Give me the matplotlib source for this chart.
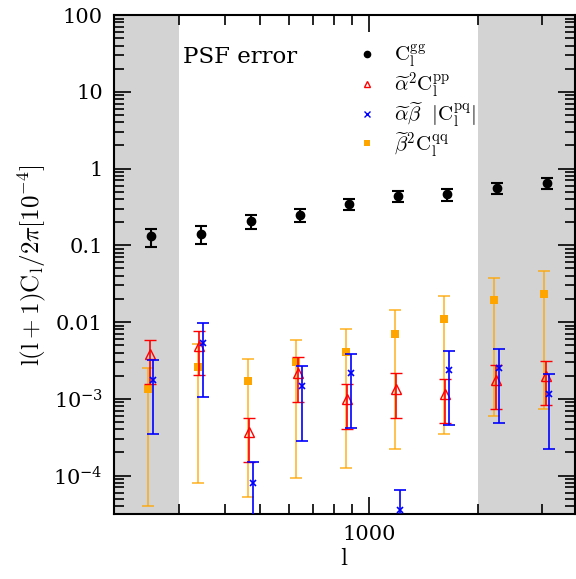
import numpy as np
import matplotlib
matplotlib.use("Agg")
import matplotlib.pyplot as plt
from matplotlib.lines import Line2D
from matplotlib.ticker import FixedLocator, FixedFormatter, NullFormatter, LogLocator

plt.rcParams["mathtext.fontset"] = "cm"
plt.rcParams["font.family"] = "serif"
plt.rcParams["font.serif"] = ["DejaVu Serif"]

# multipole bins
ell = [251, 344, 472, 644, 881, 1203, 1641, 2259, 3105]

# C_l^gg
gg = [0.131, 0.142, 0.207, 0.248, 0.349, 0.438, 0.466, 0.552, 0.655]
gg_hi = [0.163, 0.180, 0.251, 0.300, 0.405, 0.509, 0.541, 0.647, 0.762]
gg_lo = [0.096, 0.104, 0.163, 0.200, 0.288, 0.363, 0.382, 0.461, 0.536]

# alpha^2 C_l^pp
pp = [3.78e-3, 4.9e-3, 3.64e-4, 2.2e-3, 9.9e-4, 1.33e-3, 1.15e-3, 1.78e-3, 1.99e-3]
pp_hi = [5.9e-3, 7.7e-3, 5.7e-4, 3.48e-3, 1.56e-3, 2.14e-3, 1.8e-3, 2.79e-3, 3.09e-3]
pp_lo = [1.55e-3, 2.07e-3, 1.49e-4, 9.0e-4, 4.1e-4, 5.6e-4, 4.8e-4, 7.3e-4, 8.2e-4]

# alpha beta |C_l^pq|
pq = [1.77e-3, 5.4e-3, 8.1e-5, 1.49e-3, 2.16e-3, 3.55e-5, 2.35e-3, 2.52e-3, 1.15e-3]
pq_hi = [3.2e-3, 9.8e-3, 1.48e-4, 2.69e-3, 3.89e-3, 6.4e-5, 4.25e-3, 4.5e-3, 2.09e-3]
pq_lo = [3.46e-4, 1.06e-3, 1e-6, 2.86e-4, 4.18e-4, 1e-6, 4.6e-4, 4.9e-4, 2.2e-4]

# beta^2 C_l^qq
qq = [1.33e-3, 2.58e-3, 1.69e-3, 3.0e-3, 4.08e-3, 7.08e-3, 1.11e-2, 1.96e-2, 2.32e-2]
qq_hi = [2.55e-3, 5.1e-3, 3.28e-3, 5.9e-3, 8.1e-3, 1.43e-2, 2.21e-2, 3.79e-2, 4.58e-2]
qq_lo = [4.0e-5, 7.96e-5, 5.2e-5, 9.2e-5, 1.26e-4, 2.23e-4, 3.49e-4, 5.98e-4, 7.26e-4]

labels = [
    r"$\mathrm{C_l^{gg}}$",
    r"$\widetilde{\alpha}^2\mathrm{C_l^{pp}}$",
    r"$\widetilde{\alpha}\widetilde{\beta}\ \ |\mathrm{C_l^{pq}}|$",
    r"$\widetilde{\beta}^2\mathrm{C_l^{qq}}$",
]


def yerr(y, hi, lo):
    y = np.array(y)
    return [y - np.array(lo), np.array(hi) - y]


fig = plt.figure(figsize=(5.76, 5.79), dpi=100)
ax = fig.add_axes([0.198, 0.112, 0.800, 0.862])

ax.set_xscale("log")
ax.set_yscale("log")
ax.set_xlim(198, 3700)
ax.set_ylim(3.14e-5, 100)

# excluded ranges
ax.axvspan(198, 300, color="lightgray", lw=0, zorder=0)
ax.axvspan(2000, 3700, color="lightgray", lw=0, zorder=0)

x = np.array(ell)
# beta^2 C_qq: bars, then markers
ax.errorbar(x * 0.98, qq, yerr=yerr(qq, qq_hi, qq_lo), fmt="none", ecolor="orange",
            elinewidth=1.2, capsize=4, capthick=1.2, alpha=0.8, zorder=2)
ax.plot(x * 0.98, qq, "s", color="orange", ms=6, mew=0, zorder=2)
ax.errorbar(x * 0.99, pp, yerr=yerr(pp, pp_hi, pp_lo), fmt="^", color="red",
            mfc="none", ms=6.5, mew=1.0, elinewidth=1.2, capsize=4, capthick=1.2, zorder=3)
ax.errorbar(x * 1.012, pq, yerr=yerr(pq, pq_hi, pq_lo), fmt="x", color="blue",
            ms=5, mew=1.2, elinewidth=1.2, capsize=4, capthick=1.2, zorder=4)
ax.errorbar(x, gg, yerr=yerr(gg, gg_hi, gg_lo), fmt="o", color="black",
            ms=6, elinewidth=1.5, capsize=4, capthick=1.5, zorder=5)

handles = [
    Line2D([], [], ls="none", marker="o", color="black", ms=4.5),
    Line2D([], [], ls="none", marker="^", color="red", mfc="none", ms=5),
    Line2D([], [], ls="none", marker="x", color="blue", ms=4.5),
    Line2D([], [], ls="none", marker="s", color="orange", ms=4.5, mew=0),
]
ax.legend(handles, labels, loc="upper left", bbox_to_anchor=(0.5, 0.975),
          frameon=False, fontsize=15, handlelength=0.8, handletextpad=0.9,
          labelspacing=0.05, borderaxespad=0.3)

ax.text(0.15, 0.915, "PSF error", transform=ax.transAxes,
        fontsize=16.5, va="center", ha="left")

# ticks
ax.xaxis.set_major_locator(FixedLocator([1000]))
ax.xaxis.set_major_formatter(FixedFormatter(["1000"]))
ax.xaxis.set_minor_locator(FixedLocator([300, 400, 500, 600, 700, 800, 900, 2000, 3000]))
ax.xaxis.set_minor_formatter(NullFormatter())

yt = [1e-4, 1e-3, 1e-2, 0.1, 1, 10, 100]
ax.yaxis.set_major_locator(FixedLocator(yt))
ax.yaxis.set_major_formatter(FixedFormatter(
    [r"$\mathdefault{10^{-4}}$", r"$\mathdefault{10^{-3}}$", "0.01", "0.1", "1", "10", "100"]))
ax.yaxis.set_minor_locator(LogLocator(base=10, subs=np.arange(2, 10), numticks=20))
ax.yaxis.set_minor_formatter(NullFormatter())

ax.tick_params(which="both", direction="in", top=True, right=True, labelsize=15, width=1.2)
ax.tick_params(which="major", length=12, pad=8)
ax.tick_params(which="minor", length=7)
for s in ax.spines.values():
    s.set_linewidth(1.5)

ax.set_xlabel(r"$\mathrm{l}$", fontsize=18, labelpad=2)
ax.set_ylabel(r"$\mathrm{l(l+1)C_l/2}\pi[10^{-4}]$", fontsize=18, labelpad=4)

fig.savefig("out.png", dpi=100)
